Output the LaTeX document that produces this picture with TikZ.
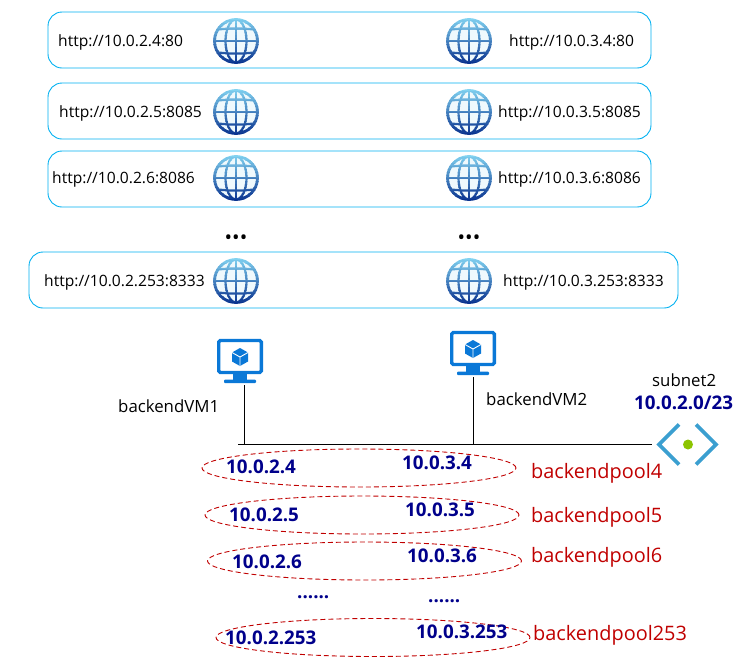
\documentclass[tikz,border=0pt]{standalone}
\usepackage{fontspec}
\setmainfont{Open Sans}
\usepackage{xcolor}
\usetikzlibrary{positioning, calc, shapes.geometric}

\definecolor{rowblue}{HTML}{00B0F0}
\definecolor{ipnavy}{HTML}{00008B}
\definecolor{poolred}{HTML}{C00000}
\definecolor{vmblue}{HTML}{0A78D7}
\definecolor{netblue}{HTML}{3B9FD0}
\definecolor{netgreen}{HTML}{8CC400}
\definecolor{globelight}{HTML}{7CCBEC}
\definecolor{globedark}{HTML}{123E96}

\tikzset{
  globeicon/.pic={
    \fill[white!88!globelight] (0,0) circle (22);
    \foreach \yy [evaluate=\yy as \pct using (\yy+22)*100/40] in {-24,-21,...,21} {
      \begin{scope}
        \clip (-24,\yy) rectangle (24,\yy+3.2);
        \draw[line width=2.8pt, globedark!\pct!globelight] (0,0) circle (21.5);
        \draw[line width=2.2pt, globedark!\pct!globelight] (0,0) ellipse (10.5 and 21.5);
        \draw[line width=2.2pt, globedark!\pct!globelight] (0,-21.5) -- (0,21.5);
        \draw[line width=2.2pt, globedark!\pct!globelight] (-21,0) -- (21,0);
        \draw[line width=2.2pt, globedark!\pct!globelight] (-18,-11.5) to[bend left=6] (18,-11.5);
        \draw[line width=2.2pt, globedark!\pct!globelight] (-18,11.5) to[bend right=6] (18,11.5);
      \end{scope}
    }
  },
  vmicon/.pic={
    \draw[vmblue, line width=3.4pt, rounded corners=1.5pt, fill=white] (-21.3,-20.5) rectangle (21.3,11.5);
    \fill[vmblue] (-7,13) rectangle (7,19);
    \fill[vmblue, rounded corners=1pt] (-16,18.5) rectangle (16,22);
    \fill[vmblue] (0,-13) -- (8,-8.5) -- (8,0.5) -- (0,5) -- (-8,0.5) -- (-8,-8.5) -- cycle;
    \draw[white, line width=0.9pt] (-8,-8.5) -- (0,-4) -- (8,-8.5) (0,-4) -- (0,5);
  },
  subneticon/.pic={
    \draw[netblue, line width=3.6pt] (-9,-20) -- (-29,0) -- (-9,20);
    \draw[netblue, line width=3.6pt] (8,-20) -- (28,0) -- (8,20);
    \fill[netgreen] (0,0) circle (5);
  }
}

\begin{document}
\begin{tikzpicture}[
  x=1pt, y=-1pt,
  rowbox/.style={rectangle, rounded corners=14pt, draw=rowblue, line width=0.9pt,
                 inner sep=0pt, minimum height=56pt},
  globe/.style={circle, inner sep=0pt, minimum size=46pt},
  vmnode/.style={rectangle, inner sep=0pt, minimum width=46pt, minimum height=44pt},
  netnode/.style={rectangle, inner sep=0pt, minimum width=72pt, minimum height=44pt},
  url/.style={anchor=west, inner sep=0pt, yshift=-1.5pt, font=\fontsize{15.6}{18}\selectfont, text=black},
  vmlabel/.style={anchor=west, inner sep=0pt, font=\fontsize{16.8}{20}\selectfont, text=black},
  ipaddr/.style={anchor=west, inner sep=0pt, yshift=-1pt, font=\fontsize{18.8}{22}\selectfont\bfseries, text=ipnavy},
  pooltext/.style={anchor=west, inner sep=0pt, yshift=-1pt, font=\fontsize{19.9}{24}\selectfont, text=poolred},
  poolring/.style={ellipse, draw=poolred, line width=0.9pt, dash pattern=on 5pt off 3pt,
                   inner sep=0pt, minimum width=314pt, minimum height=38pt},
  moredots/.style={font=\fontsize{20}{20}\selectfont, inner sep=0pt},
  link/.style={draw=black, line width=1.3pt}
]
\useasboundingbox (0,0) rectangle (744,662);

% ── Rows of endpoints ──
\node[rowbox, minimum width=603pt] (row4) at (349.5,40) {};
\node[rowbox, minimum width=603pt] (row5) at (349.5,111) {};
\node[rowbox, minimum width=603pt] (row6) at (349.5,179) {};
\node[rowbox, minimum width=649pt] (row253) at (353.5,280) {};

\node[globe] (globe4a) at (236,41) {};
\node[globe] (globe4b) at (469,41) {};
\node[globe] (globe5a) at (236,112) {};
\node[globe] (globe5b) at (469,112) {};
\node[globe] (globe6a) at (236,178) {};
\node[globe] (globe6b) at (469,178) {};
\node[globe] (globe253a) at (236,281) {};
\node[globe] (globe253b) at (469,281) {};
\pic at (globe4a) {globeicon};
\pic at (globe4b) {globeicon};
\pic at (globe5a) {globeicon};
\pic at (globe5b) {globeicon};
\pic at (globe6a) {globeicon};
\pic at (globe6b) {globeicon};
\pic at (globe253a) {globeicon};
\pic at (globe253b) {globeicon};

\node[url] (url4a) at (58,41) {http://10.0.2.4:80};
\node[url] (url4b) at (509,41) {http://10.0.3.4:80};
\node[url] (url5a) at (59,112) {http://10.0.2.5:8085};
\node[url] (url5b) at (498,112) {http://10.0.3.5:8085};
\node[url] (url6a) at (52,178) {http://10.0.2.6:8086};
\node[url] (url6b) at (498,178) {http://10.0.3.6:8086};
\node[url] (url253a) at (44,281) {http://10.0.2.253:8333};
\node[url] (url253b) at (503,281) {http://10.0.3.253:8333};

\node[moredots] (moreurla) at (236,240) {•••};
\node[moredots] (moreurlb) at (469,240) {•••};

% ── Backend machines and subnet ──
\node[vmnode] (vm1) at (240,361) {};
\node[vmnode] (vm2) at (473,353) {};
\pic at (vm1) {vmicon};
\pic at (vm2) {vmicon};
\node[vmlabel] (vm1label) at (118,406) {backendVM1};
\node[vmlabel] (vm2label) at (486,399) {backendVM2};

\node[netnode] (subnet) at (688,444.5) {};
\pic at (subnet) {subneticon};
\node[vmlabel] (subnetname) at (652,380) {subnet2};
\node[ipaddr] (subnetip) at (634,402) {10.0.2.0/23};

\coordinate (busstart) at (238,444.5);
\coordinate (vm1foot) at (244.5,385);
\coordinate (vm2foot) at (473.5,377);
\draw[link] (busstart) -- (subnet.west);
\draw[link] (vm1foot) -- (vm1foot |- busstart);
\draw[link] (vm2foot) -- (vm2foot |- busstart);

% ── Backend pools ──
\node[poolring] (ring4) at (359,468) {};
\node[poolring] (ring5) at (362,515) {};
\node[poolring] (ring6) at (364.5,561) {};
\node[poolring] (ring253) at (373,637.5) {};

\node[ipaddr] (ip4a) at (226,466) {10.0.2.4};
\node[ipaddr] (ip4b) at (402,462) {10.0.3.4};
\node[ipaddr] (ip5a) at (229,514) {10.0.2.5};
\node[ipaddr] (ip5b) at (405,509) {10.0.3.5};
\node[ipaddr] (ip6a) at (232,561) {10.0.2.6};
\node[ipaddr] (ip6b) at (407,555) {10.0.3.6};
\node[ipaddr] (moreipa) at (297,596) {......};
\node[ipaddr] (moreipb) at (428,600) {......};
\node[ipaddr] (ip253a) at (225,637) {10.0.2.253};
\node[ipaddr] (ip253b) at (416,631) {10.0.3.253};

\node[pooltext] (pool4) at (531,472) {backendpool4};
\node[pooltext] (pool5) at (531,516) {backendpool5};
\node[pooltext] (pool6) at (531,556) {backendpool6};
\node[pooltext] (pool253) at (533,634) {backendpool253};

\end{tikzpicture}
\end{document}
